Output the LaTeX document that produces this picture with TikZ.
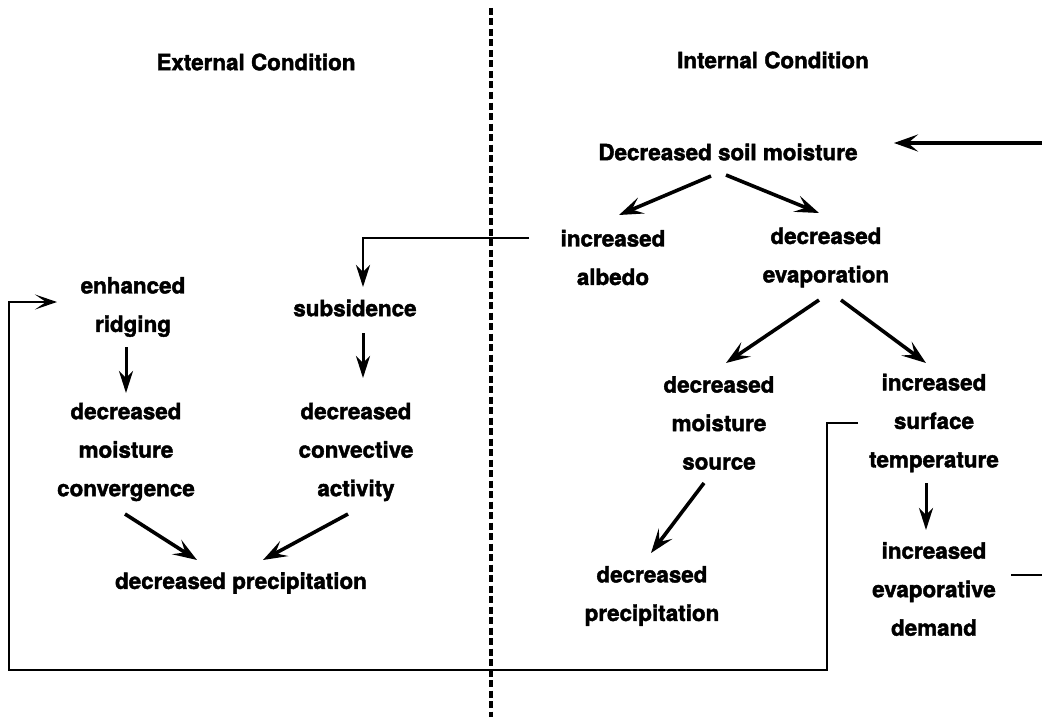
\documentclass[tikz,border=0pt]{standalone}
\usepackage{fontspec}
\setmainfont{TeX Gyre Heros}[BoldFeatures={FakeBold=1.8}]
\usetikzlibrary{arrows.meta,calc}
\begin{document}
\begin{tikzpicture}[x=1pt,y=-1pt,
  lbl/.style={inner sep=0pt,align=center,font=\bfseries\fontsize{22.4}{38.5}\selectfont},
  arr/.style={line width=3.6pt,-{Stealth[length=24pt,width=17pt,inset=10pt]}},
  arrv/.style={line width=3pt,-{Stealth[length=22pt,width=14pt,inset=7pt]}},
  fb/.style={line width=2.8pt},
  fbarr/.style={line width=2.8pt,-{Stealth[length=22pt,width=15pt,inset=11pt]}},
  sep/.style={line width=3.2pt,dash pattern=on 7pt off 3.5pt}]
\useasboundingbox[fill=white] (0,0) rectangle (1042,717);
% separator
\coordinate (septop) at (491,8);
\coordinate (sepbot) at (491,717);
\draw[sep] (septop) -- (sepbot);
% headers
\node[lbl] (ext) at (256,62) {External Condition};
\node[lbl] (int) at (773,60) {Internal Condition};
% internal
\node[lbl] (dsm) at (728,152) {Decreased soil moisture};
\node[lbl] (alb) at (613,257.5) {increased\\albedo};
\node[lbl] (evap) at (826,257.5) {decreased\\evaporation};
\node[lbl] (msrc) at (719,423) {decreased\\moisture\\source};
\node[lbl] (sfc) at (934,423) {increased\\surface\\temperature};
\node[lbl] (evd) at (934,589) {increased\\evaporative\\demand};
\node[lbl] (pr) at (652,596) {decreased\\precipitation};
% external
\node[lbl] (ridge) at (133,307) {enhanced\\ridging};
\node[lbl] (sub) at (355,308) {subsidence};
\node[lbl] (mconv) at (126,452) {decreased\\moisture\\convergence};
\node[lbl] (conv) at (356,452) {decreased\\convective\\activity};
\node[lbl] (pl) at (241,583) {decreased precipitation};
% free ends
\coordinate (rin) at (1042,143);
\coordinate (rout) at (1042,575);
% internal arrows
\draw[arr] (rin) -- ($(dsm.center)+(166,-9)$);
\draw[arr] ($(dsm.center)+(-17,24)$) -- ($(alb.center)+(6,-42.5)$);
\draw[arr] ($(dsm.center)+(-2,23)$) -- ($(evap.center)+(-7,-44.5)$);
\draw[arr] ($(evap.center)+(-7,42.5)$) -- ($(msrc.center)+(7,-60)$);
\draw[arr] ($(evap.center)+(15,42.5)$) -- ($(sfc.center)+(-8,-60)$);
\draw[arrv] ($(sfc.center)+(-8,60)$) -- ($(evd.center)+(-8,-59)$);
\draw[arr] ($(msrc.center)+(-15,60)$) -- ($(pr.center)+(-1,-43)$);
\draw[fb] ($(evd.center)+(77,-14)$) -- (rout);
% albedo to subsidence
\draw[arrv,line width=2.8pt] ($(alb.center)+(-84,-19.5)$) -| ($(sub.center)+(8,-21)$);
% external arrows
\draw[arrv] ($(sub.center)+(8,25)$) -- ($(conv.center)+(7,-74)$);
\draw[arrv] ($(ridge.center)+(-7,40)$) -- ($(mconv.center)+(0,-59)$);
\draw[arr] ($(mconv.center)+(-1,62)$) -- ($(pl.center)+(-44,-23)$);
\draw[arr] ($(conv.center)+(-8,62)$) -- ($(pl.center)+(22,-23)$);
% feedback loop
\draw[fbarr] ($(sfc.center)+(-76,0)$) -- ++(-31,0) |- (9,670) |- ($(ridge.center)+(-76,-5)$);
\end{tikzpicture}
\end{document}
